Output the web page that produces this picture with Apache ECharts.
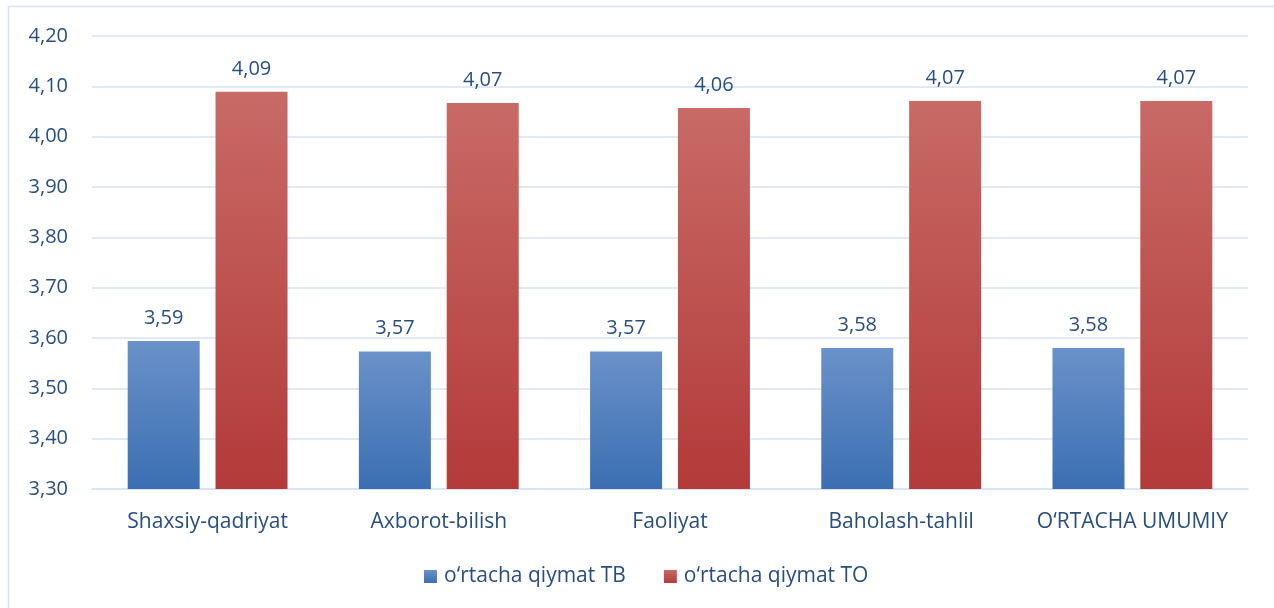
<!DOCTYPE html>
<html><head><meta charset="utf-8">
<script src="https://cdn.jsdelivr.net/npm/echarts@6/dist/echarts.min.js"></script>
<style>html,body{margin:0;padding:0;background:#fff}#c{width:1274px;height:608px}</style>
</head><body><div id="c"></div>
<script>
const categories = ['Shaxsiy-qadriyat', 'Axborot-bilish', 'Faoliyat', 'Baholash-tahlil', 'O\u2018RTACHA UMUMIY'];
const seriesNames = ['o\u2018rtacha qiymat TB', 'o\u2018rtacha qiymat TO'];
const valuesTB = [3.594, 3.573, 3.573, 3.58, 3.58];
const valuesTO = [4.089, 4.067, 4.057, 4.071, 4.071];

const txt = '#284e7f';
const font = '"Open Sans", sans-serif';
const fs = 20;
const fmt = v => Number(v).toFixed(2).replace('.', ',');
const grad = (a, b) => new echarts.graphic.LinearGradient(0, 0, 0, 1, [{offset: 0, color: a}, {offset: 1, color: b}]);

const chart = echarts.init(document.getElementById('c'));
chart.setOption({
  animation: false,
  textStyle: {fontFamily: font},
  graphic: [{type: 'rect', shape: {x: 8.5, y: 6.5, width: 1300, height: 700}, style: {fill: 'none', stroke: '#d6e2f1', lineWidth: 1.5}, silent: true}],
  grid: {left: 92, right: 26, top: 36, bottom: 119},
  legend: {
    bottom: 16, left: 419, itemWidth: 13, itemHeight: 13, itemGap: 38,
    icon: 'rect',
    textStyle: {color: txt, fontSize: 21, fontFamily: font, padding: [0, 0, 0, 2]},
    data: seriesNames
  },
  xAxis: {
    type: 'category', data: categories,
    axisLine: {lineStyle: {color: '#d6e2f1', width: 1.5}},
    axisTick: {show: false},
    axisLabel: {color: txt, fontSize: 21, margin: 23, interval: 0, hideOverlap: false, fontFamily: font}
  },
  yAxis: {
    type: 'value', min: 3.3, max: 4.2, interval: 0.1,
    axisLine: {show: false}, axisTick: {show: false},
    splitLine: {lineStyle: {color: '#d6e2f1', width: 1.5}},
    axisLabel: {color: txt, fontSize: fs, margin: 24, formatter: v => fmt(v), fontFamily: font}
  },
  series: [
    {name: seriesNames[0], type: 'bar', data: valuesTB, barWidth: 72, barGap: '22%',
     itemStyle: {color: grad('#6a91c9', '#3b6fb2')},
     label: {show: true, position: 'top', distance: 13, color: txt, fontSize: fs, formatter: p => fmt(p.value), fontFamily: font}},
    {name: seriesNames[1], type: 'bar', data: valuesTO, barWidth: 72,
     itemStyle: {color: grad('#c86a66', '#b33a39')},
     label: {show: true, position: 'top', distance: 13, color: txt, fontSize: fs, formatter: p => fmt(p.value), fontFamily: font}}
  ]
});
</script></body></html>
